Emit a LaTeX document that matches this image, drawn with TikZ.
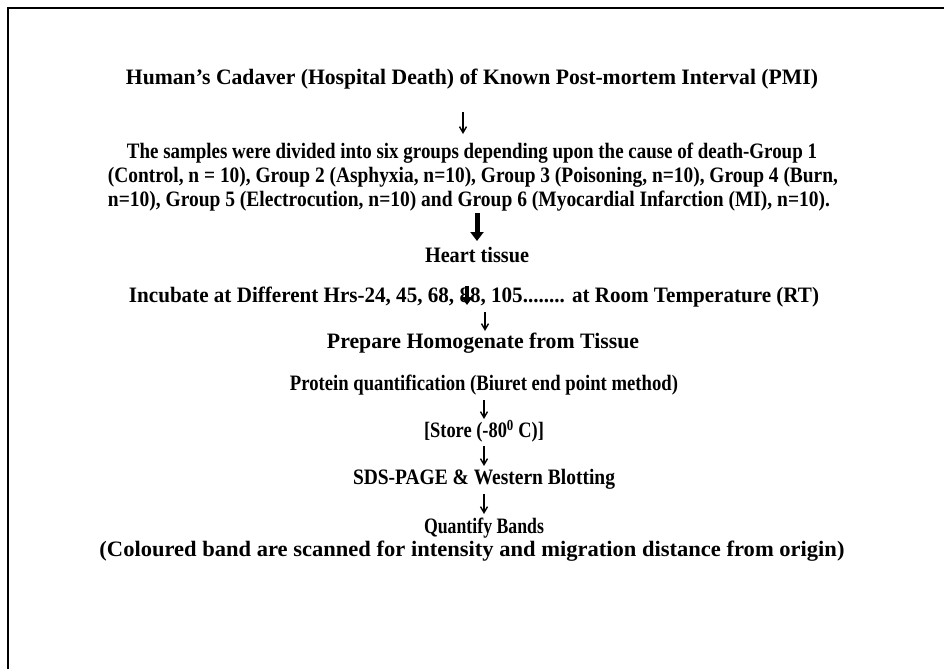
\documentclass[tikz,border=0pt]{standalone}
\usepackage{fontspec}
\usepackage{graphicx}
\setmainfont{Liberation Serif}
\usetikzlibrary{arrows.meta}
\newcommand{\fitline}[2]{\resizebox{#1pt}{\height}{#2}}
\begin{document}
\begin{tikzpicture}[x=1pt,y=-1pt,
  txt/.style={font=\bfseries\fontsize{22}{24}\selectfont, inner sep=0pt, anchor=center},
  thin/.style={line width=1.4pt, -{Straight Barb[length=6pt,width=7pt]}},
  thick/.style={line width=5pt, -{Triangle[length=9pt,width=13pt]}}]
\useasboundingbox (0,0) rectangle (944,669);
\draw[line width=2pt] (8,669) -- (8,8) -- (944,8);
\node[txt] (t1) at (472,79) {\fitline{692}{Human’s Cadaver (Hospital Death) of Known Post-mortem Interval (PMI)}};
\node[txt] (g1) at (472,153) {\fitline{690}{The samples were divided into six groups depending upon the cause of death-Group 1}};
\node[txt] (g2) at (473,177) {\fitline{730}{(Control, n = 10), Group 2 (Asphyxia, n=10), Group 3 (Poisoning, n=10), Group 4 (Burn,}};
\node[txt] (g3) at (469,201) {\fitline{722}{n=10), Group 5 (Electrocution, n=10) and Group 6 (Myocardial Infarction (MI), n=10).}};
\node[txt] (h) at (477,255) {\fitline{104}{Heart tissue}};
\node[txt] (inc) at (474,297) {\fitline{690}{Incubate at Different Hrs-24, 45, 68, 88, 105........ at Room Temperature (RT)}};
\node[txt] (p) at (483,343) {\fitline{312}{Prepare Homogenate from Tissue}};
\node[txt] (q) at (484,385) {\fitline{388}{Protein quantification (Biuret end point method)}};
\node[txt] (s) at (484,431) {\fitline{120}{[Store (-80\textsuperscript{0} C)]}};
\node[txt] (w) at (484,479) {\fitline{262}{SDS-PAGE \& Western Blotting}};
\node[txt] (b) at (484,528) {\fitline{120}{Quantify Bands}};
\node[txt] (c) at (472,551) {\fitline{745}{(Coloured band are scanned for intensity and migration distance from origin)}};
\coordinate (a1s) at (463,112); \coordinate (a1e) at (463,134);
\coordinate (a2s) at (477,213); \coordinate (a2e) at (477,241);
\coordinate (a3s) at (467,286); \coordinate (a3e) at (467,305);
\coordinate (a4s) at (485,312); \coordinate (a4e) at (485,331);
\coordinate (a5s) at (484,400); \coordinate (a5e) at (484,419);
\coordinate (a6s) at (484,446); \coordinate (a6e) at (484,466);
\coordinate (a7s) at (484,494); \coordinate (a7e) at (484,514);
\draw[thin] (a1s) -- (a1e);
\draw[thick] (a2s) -- (a2e);
\draw[line width=4pt, -{Triangle[length=8pt,width=11pt]}] (a3s) -- (a3e);
\draw[thin] (a4s) -- (a4e);
\draw[thin] (a5s) -- (a5e);
\draw[thin] (a6s) -- (a6e);
\draw[thin] (a7s) -- (a7e);
\end{tikzpicture}
\end{document}
